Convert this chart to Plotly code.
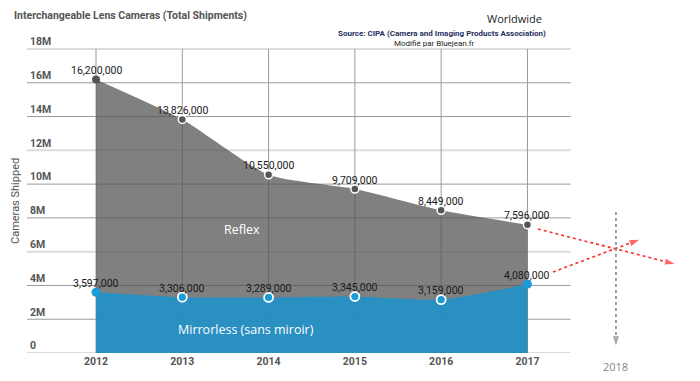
import plotly.graph_objects as go

years = [2012, 2013, 2014, 2015, 2016, 2017]
reflex = [16200000, 13826000, 10550000, 9709000, 8449000, 7596000]
mirrorless = [3597000, 3306000, 3289000, 3345000, 3159000, 4080000]
y_ticks = [0, 2e6, 4e6, 6e6, 8e6, 10e6, 12e6, 14e6, 16e6, 18e6]
y_tick_text = ["0", "2M", "4M", "6M", "8M", "10M", "12M", "14M", "16M", "18M"]

XMIN, XMAX = 2011.2, 2019.0
GRID_END = 2017.5
ML, MT, MB, W, H = 27, 29, 28, 700, 381
PW, PH = W - ML, H - MT - MB
PX_PER_M = 304 / 18.0
YMAX = (H - MB - MT) / PX_PER_M * 1e6

def px(x):
    return (x - ML) / PW

def py(y):
    return (H - MB - y) / PH

def fmt(v):
    return f"{v:,}"

fig = go.Figure()

fig.add_trace(go.Scatter(
    x=years, y=reflex, mode="lines+markers", name="Reflex",
    fill="tozeroy", fillcolor="rgba(85,85,85,0.745)",
    line=dict(color="rgba(0,0,0,0)", width=1, shape="spline", smoothing=0.6),
    marker=dict(size=8, color="#555555",
                line=dict(color="white", width=[0, 1.5, 1.5, 1.5, 1.5, 1.5])),
    cliponaxis=False, hoverinfo="skip",
))
fig.add_trace(go.Scatter(
    x=years, y=mirrorless, mode="lines+markers", name="Mirrorless",
    fill="tozeroy", fillcolor="rgba(27,146,205,0.85)",
    line=dict(color="rgba(0,0,0,0)", width=1, shape="spline", smoothing=0.6),
    marker=dict(size=9, color="#1a9ad6",
                line=dict(color="white", width=[0, 1.8, 1.8, 1.8, 1.8, 0])),
    cliponaxis=False, hoverinfo="skip",
))

# decorative trend arrows
arrow_specs = [
    ([2017.122, 2018.72], [7.342e6, 5.25e6], "#ff2a2a"),
    ([2017.296, 2018.31], [4.796e6, 6.74e6], "#ff2a2a"),
    ([2018.026, 2018.026], [8.349e6, 0.35e6], "#888888"),
]
for xs, ys, col in arrow_specs:
    fig.add_trace(go.Scatter(
        x=xs, y=ys, mode="lines+markers",
        line=dict(color=col, width=1.6, dash="dot"),
        marker=dict(symbol="arrow", angleref="previous", size=[0, 12], color=col),
        hoverinfo="skip", showlegend=False, cliponaxis=False,
    ))

shapes = []
for v in y_ticks:
    major = (v % 6e6 == 0)
    shapes.append(dict(
        type="line", xref="x", yref="y", x0=XMIN, x1=GRID_END, y0=v, y1=v,
        line=dict(color="#dcdcdc" if major else "#9a9a9a", width=2 if major else 1),
        layer="below",
    ))
for yr in years:
    shapes.append(dict(
        type="line", xref="x", yref="y", x0=yr, x1=yr, y0=0, y1=18e6,
        line=dict(color="#9a9a9a", width=1), layer="below",
    ))

annotations = []
for xs, ys in ((years, reflex), (years, mirrorless)):
    for xv, yv in zip(xs, ys):
        annotations.append(dict(
            text=fmt(yv), x=xv, y=yv, xref="x", yref="y", showarrow=False,
            xanchor="center", yanchor="middle", yshift=9,
            font=dict(family="Roboto", size=10.5, color="#1a1a1a")))

annotations += [
    dict(text="Reflex", x=2013.69, y=7.3e6, xref="x", yref="y", showarrow=False,
         xanchor="center", yanchor="middle",
         font=dict(family="Open Sans", size=12.5, color="white")),
    dict(text="Mirrorless (sans miroir)", x=2013.74, y=1.42e6, xref="x", yref="y",
         showarrow=False, xanchor="center", yanchor="middle",
         font=dict(family="Open Sans", size=12.5, color="white")),
    dict(text="2018", x=2018.026, y=0, xref="x", yref="y", yshift=-13, showarrow=False,
         xanchor="center", yanchor="middle",
         font=dict(family="Open Sans", size=11, color="#888888")),
    dict(text="Worldwide", x=px(514), y=py(18), xref="paper", yref="paper",
         xanchor="center", yanchor="middle",
         showarrow=False, font=dict(family="Open Sans", size=11, color="#222222")),
    dict(text="<b>Source: CIPA (Camera and Imaging Products Association)</b>",
         x=px(442), y=py(33), xref="paper", yref="paper", showarrow=False,
         xanchor="center", yanchor="middle",
         font=dict(family="Roboto", size=8, color="#1f2f5f")),
    dict(text="Modifié par Bluejean.fr", x=px(435), y=py(44), xref="paper",
         yref="paper", showarrow=False, xanchor="center", yanchor="middle",
         font=dict(family="Roboto", size=8, color="#222222")),
    dict(text="Cameras Shipped", x=px(15), y=py(201), xref="paper", yref="paper",
         textangle=-90, showarrow=False, xanchor="center", yanchor="middle",
         font=dict(family="Roboto", size=11, color="#555555")),
]

fig.update_layout(
    width=W, height=H,
    margin=dict(l=ML, r=0, t=MT, b=MB),
    paper_bgcolor="white", plot_bgcolor="white",
    showlegend=False,
    title=dict(text="<b>Interchangeable Lens Cameras (Total Shipments)</b>",
               x=14 / W, xanchor="left", xref="container",
               y=1 - 15 / H, yanchor="middle", yref="container",
               font=dict(family="Roboto", size=10.5, color="#555555")),
    xaxis=dict(range=[XMIN, XMAX], tickvals=years, ticktext=[str(y) for y in years],
               showgrid=False, zeroline=False, showline=False, ticks="",
               automargin=False,
               tickfont=dict(family="Roboto", size=10.5, color="#555555", weight="bold")),
    yaxis=dict(range=[0, YMAX], tickvals=y_ticks, ticktext=y_tick_text,
               showgrid=False, zeroline=False, showline=False, ticks="",
               automargin=False, ticklabelposition="inside top",
               tickfont=dict(family="Roboto", size=10.5, color="#555555", weight="bold")),
    shapes=shapes,
    annotations=annotations,
)

fig.write_html("out.html", config={"displayModeBar": False},
               post_script="document.body.style.margin='0';")
